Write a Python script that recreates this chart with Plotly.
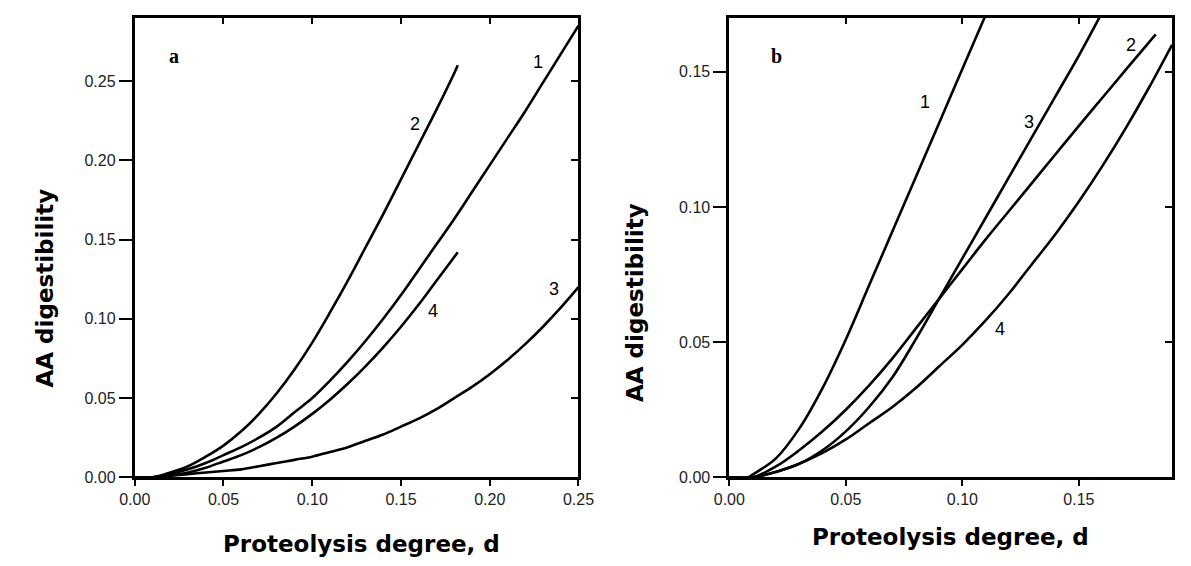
import plotly.graph_objects as go

# ---------------- data ----------------
# Panel a
a_x1 = [0.0, 0.01, 0.02, 0.03, 0.04, 0.05, 0.06, 0.07, 0.08, 0.09, 0.10, 0.11, 0.12, 0.13,
        0.14, 0.15, 0.16, 0.17, 0.18, 0.19, 0.20, 0.21, 0.22, 0.23, 0.24, 0.25]
a_y1 = [0.0, 0.0, 0.002, 0.005, 0.009, 0.014, 0.019, 0.025, 0.032, 0.041, 0.050, 0.061, 0.073, 0.086,
        0.100, 0.115, 0.131, 0.147, 0.163, 0.180, 0.197, 0.214, 0.231, 0.249, 0.267, 0.285]
a_x2 = [0.0, 0.01, 0.02, 0.03, 0.04, 0.05, 0.06, 0.07, 0.08, 0.09, 0.10, 0.11, 0.12, 0.13,
        0.14, 0.15, 0.16, 0.17, 0.18, 0.182]
a_y2 = [0.0, 0.0, 0.003, 0.007, 0.013, 0.020, 0.029, 0.040, 0.053, 0.068, 0.085, 0.104, 0.124, 0.145,
        0.166, 0.188, 0.210, 0.232, 0.255, 0.260]
a_x3 = [0.0, 0.01, 0.02, 0.03, 0.04, 0.05, 0.06, 0.07, 0.08, 0.09, 0.10, 0.11, 0.12, 0.13,
        0.14, 0.15, 0.16, 0.17, 0.18, 0.19, 0.20, 0.21, 0.22, 0.23, 0.24, 0.25]
a_y3 = [0.0, 0.0, 0.001, 0.002, 0.003, 0.004, 0.005, 0.007, 0.009, 0.011, 0.013, 0.016, 0.019, 0.023,
        0.027, 0.032, 0.037, 0.043, 0.050, 0.057, 0.065, 0.074, 0.084, 0.095, 0.107, 0.120]
a_x4 = [0.0, 0.01, 0.02, 0.03, 0.04, 0.05, 0.06, 0.07, 0.08, 0.09, 0.10, 0.11, 0.12, 0.13,
        0.14, 0.15, 0.16, 0.17, 0.18, 0.182]
a_y4 = [0.0, 0.0, 0.001, 0.003, 0.006, 0.010, 0.014, 0.019, 0.025, 0.032, 0.040, 0.049, 0.059, 0.070,
        0.082, 0.095, 0.109, 0.124, 0.139, 0.142]

# Panel b
b_x1 = [0.0, 0.008, 0.01, 0.02, 0.03, 0.04, 0.05, 0.06, 0.07, 0.08, 0.09, 0.10, 0.11]
b_y1 = [0.0, 0.0, 0.001, 0.007, 0.018, 0.033, 0.051, 0.071, 0.091, 0.111, 0.131, 0.151, 0.171]
b_x2 = [0.0, 0.01, 0.02, 0.03, 0.04, 0.05, 0.06, 0.07, 0.08, 0.09, 0.10, 0.11, 0.12, 0.13,
        0.14, 0.15, 0.16, 0.17, 0.18, 0.183]
b_y2 = [0.0, 0.0, 0.004, 0.010, 0.017, 0.025, 0.034, 0.044, 0.055, 0.066, 0.077, 0.088, 0.0985, 0.109,
        0.1195, 0.130, 0.1403, 0.1506, 0.1608, 0.1638]
b_x3 = [0.0, 0.01, 0.02, 0.03, 0.04, 0.05, 0.06, 0.07, 0.08, 0.09, 0.10, 0.11, 0.12, 0.13,
        0.14, 0.15, 0.16]
b_y3 = [0.0, 0.0, 0.002, 0.005, 0.010, 0.017, 0.026, 0.037, 0.051, 0.066, 0.081, 0.096, 0.111, 0.126,
        0.141, 0.156, 0.172]
b_x4 = [0.0, 0.01, 0.02, 0.03, 0.04, 0.05, 0.06, 0.07, 0.08, 0.09, 0.10, 0.11, 0.12, 0.13,
        0.14, 0.15, 0.16, 0.17, 0.18, 0.19]
b_y4 = [0.0, 0.0, 0.002, 0.005, 0.009, 0.014, 0.020, 0.026, 0.033, 0.041, 0.049, 0.058, 0.068, 0.079,
        0.090, 0.102, 0.115, 0.129, 0.144, 0.160]

# curve number labels (x, y, text)
a_labels = [(0.227, 0.262, "1"), (0.158, 0.223, "2"), (0.236, 0.119, "3"), (0.168, 0.105, "4")]
b_labels = [(0.084, 0.139, "1"), (0.1725, 0.160, "2"), (0.1285, 0.1316, "3"), (0.116, 0.0549, "4")]
panel_tags = [("a", 0.022, 0.266), ("b", 0.0204, 0.1558)]

x_title = "Proteolysis degree, d"
y_title = "AA digestibility"

a_xrange, a_yrange = [0, 0.25], [0, 0.29]
b_xrange, b_yrange = [0, 0.19], [0, 0.17]
ticks_step = 0.05

# ---------------- layout geometry (pixels) ----------------
W, H = 1191, 566
a_left, a_right = 122, 578
b_left, b_right = 733, 1188
p_top, p_bottom = 18, 485


def px(x):
    return x / W


def py(y):
    return 1 - y / H


fig = go.Figure()
line = dict(color="black", width=2.6)

for xs, ys in [(a_x1, a_y1), (a_x2, a_y2), (a_x3, a_y3), (a_x4, a_y4)]:
    fig.add_trace(go.Scatter(x=xs, y=ys, mode="lines", line=line, xaxis="x", yaxis="y",
                             line_shape="spline", showlegend=False, hoverinfo="skip"))
for xs, ys in [(b_x1, b_y1), (b_x2, b_y2), (b_x3, b_y3), (b_x4, b_y4)]:
    fig.add_trace(go.Scatter(x=xs, y=ys, mode="lines", line=line, xaxis="x2", yaxis="y2",
                             line_shape="spline", showlegend=False, hoverinfo="skip"))

# invisible traces to register the overlay (mirror-tick) axes
for xa, ya in [("x3", "y"), ("x", "y3"), ("x4", "y2"), ("x2", "y4")]:
    fig.add_trace(go.Scatter(x=[None], y=[None], mode="lines", xaxis=xa, yaxis=ya,
                             showlegend=False, hoverinfo="skip"))

tickfont = dict(family="Liberation Sans, Arial, sans-serif", size=16, color="#222")
frame = dict(showline=True, linecolor="black", linewidth=2.8, mirror=True,
             showgrid=False, zeroline=False, tickcolor="black", tickwidth=1.5,
             tickformat=".2f", dtick=ticks_step, tick0=0, tickfont=tickfont)
mirror_ticks = dict(ticks="inside", tickwidth=1.5, tickcolor="black", dtick=ticks_step, tick0=0,
                    showticklabels=False, showgrid=False, zeroline=False, showline=False)

fig.update_layout(
    width=W, height=H, autosize=False,
    margin=dict(l=0, r=0, t=0, b=0),
    paper_bgcolor="white", plot_bgcolor="white",
    xaxis=dict(domain=[px(a_left), px(a_right)], range=a_xrange, anchor="y",
               ticks="outside", ticklen=6, **frame),
    yaxis=dict(domain=[py(p_bottom), py(p_top)], range=a_yrange, anchor="x",
               ticks="outside", ticklen=13, **frame),
    xaxis2=dict(domain=[px(b_left), px(b_right)], range=b_xrange, anchor="y2",
                ticks="outside", ticklen=6, **frame),
    yaxis2=dict(domain=[py(p_bottom), py(p_top)], range=b_yrange, anchor="x2",
                ticks="outside", ticklen=13, **frame),
    xaxis3=dict(overlaying="x", side="top", range=a_xrange, anchor="y", ticklen=6, **mirror_ticks),
    yaxis3=dict(overlaying="y", side="right", range=a_yrange, anchor="x", ticklen=7, **mirror_ticks),
    xaxis4=dict(overlaying="x2", side="top", range=b_xrange, anchor="y2", ticklen=6, **mirror_ticks),
    yaxis4=dict(overlaying="y2", side="right", range=b_yrange, anchor="x2", ticklen=7, **mirror_ticks),
)

numfont = dict(family="Liberation Sans, Arial, sans-serif", size=18, color="black")
for x, y, t in a_labels:
    fig.add_annotation(x=x, y=y, xref="x", yref="y", text=t, showarrow=False, font=numfont)
for x, y, t in b_labels:
    fig.add_annotation(x=x, y=y, xref="x2", yref="y2", text=t, showarrow=False, font=numfont)

tagfont = dict(family="Liberation Serif, Times New Roman, serif", size=20, color="black", weight="bold")
fig.add_annotation(x=panel_tags[0][1], y=panel_tags[0][2], xref="x", yref="y",
                   text=panel_tags[0][0], showarrow=False, font=tagfont)
fig.add_annotation(x=panel_tags[1][1], y=panel_tags[1][2], xref="x2", yref="y2",
                   text=panel_tags[1][0], showarrow=False, font=tagfont)

titlefont = dict(family="DejaVu Sans, sans-serif", size=23, color="black", weight="bold")
for cx, cy in [((a_left + a_right) / 2 + 5, 553), ((b_left + b_right) / 2, 546)]:
    fig.add_annotation(x=px(cx), y=py(cy), xref="paper", yref="paper", text=x_title,
                       showarrow=False, font=titlefont, xanchor="center", yanchor="middle")
for cx, cy in [(30, 293), (636, 307)]:
    fig.add_annotation(x=px(cx), y=py(cy), xref="paper", yref="paper", text=y_title,
                       showarrow=False, font=titlefont, textangle=-90,
                       xanchor="center", yanchor="middle")

fig.write_html("out.html")
